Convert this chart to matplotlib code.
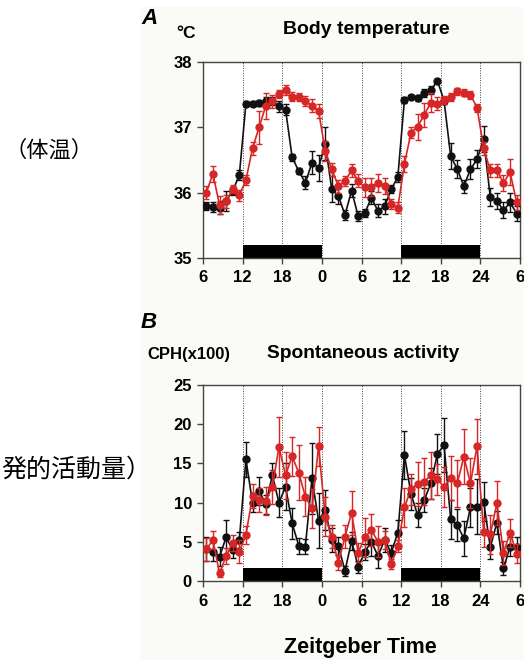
import numpy as np
import matplotlib
matplotlib.use("Agg")
import matplotlib.pyplot as plt
from matplotlib.patches import Rectangle

plt.rcParams['font.family'] = ['Liberation Sans', 'DejaVu Sans']

# hourly bins, Zeitgeber time (continuous hours, 2 days)
zt = np.arange(6.5, 54, 1.0)
tick_pos = [6, 12, 18, 24, 30, 36, 42, 48, 54]
tick_lab = ['6', '12', '18', '0', '6', '12', '18', '24', '6']
dark_periods = [(12, 24), (36, 48)]

# body temperature (deg C)
temp_black = [35.79, 35.78, 35.77, 35.87, 36.03, 36.27, 37.36, 37.36, 37.37, 37.40, 37.40, 37.32,
              37.27, 36.54, 36.33, 36.15, 36.46, 36.38, 36.75, 36.05, 35.95, 35.66, 36.03, 35.64,
              35.69, 35.92, 35.72, 35.79, 36.05, 36.24, 37.42, 37.46, 37.45, 37.53, 37.57, 37.71,
              37.41, 36.56, 36.36, 36.10, 36.36, 36.51, 36.82, 35.93, 35.87, 35.73, 35.85, 35.68]
temp_black_err = [0.06, 0.08, 0.10, 0.15, 0.06, 0.08, 0.04, 0.04, 0.05, 0.06, 0.06, 0.08,
                  0.08, 0.05, 0.05, 0.10, 0.18, 0.20, 0.25, 0.20, 0.12, 0.08, 0.10, 0.08,
                  0.06, 0.10, 0.10, 0.12, 0.06, 0.08, 0.04, 0.03, 0.05, 0.06, 0.06, 0.03,
                  0.06, 0.20, 0.14, 0.10, 0.15, 0.14, 0.20, 0.14, 0.12, 0.12, 0.14, 0.12]
temp_red = [36.00, 36.29, 35.81, 35.87, 36.05, 35.96, 36.19, 36.68, 37.00, 37.33, 37.40, 37.51,
            37.57, 37.47, 37.47, 37.40, 37.33, 37.25, 36.64, 36.36, 36.10, 36.18, 36.34, 36.18,
            36.08, 36.09, 36.15, 36.10, 35.83, 35.77, 36.44, 36.92, 37.01, 37.19, 37.38, 37.36,
            37.42, 37.47, 37.55, 37.53, 37.50, 37.30, 36.68, 36.34, 36.34, 36.15, 36.31, 35.85]
temp_red_err = [0.10, 0.12, 0.14, 0.10, 0.06, 0.08, 0.08, 0.10, 0.25, 0.20, 0.10, 0.06,
                0.08, 0.07, 0.06, 0.08, 0.10, 0.10, 0.15, 0.10, 0.10, 0.08, 0.10, 0.10,
                0.14, 0.14, 0.14, 0.12, 0.08, 0.08, 0.12, 0.08, 0.20, 0.18, 0.15, 0.10,
                0.06, 0.06, 0.05, 0.05, 0.06, 0.06, 0.10, 0.10, 0.10, 0.12, 0.20, 0.12]

# spontaneous activity (CPH x100)
act_black = [4.08, 3.74, 3.10, 5.57, 3.95, 5.23, 15.5, 10.0, 11.5, 9.78, 13.5, 10.0,
             12.0, 7.36, 4.50, 4.40, 13.1, 7.70, 9.06, 5.20, 4.46, 1.30, 5.10, 1.80,
             3.74, 5.00, 3.20, 5.23, 3.60, 6.16, 16.07, 11.1, 8.40, 10.3, 12.46, 16.2,
             17.35, 7.87, 7.14, 5.44, 9.40, 9.48, 10.1, 4.30, 7.44, 1.60, 4.38, 4.38]
act_black_err = [1.5, 1.2, 1.2, 2.2, 1.0, 1.0, 2.2, 1.2, 1.8, 1.2, 1.5, 1.8,
                 3.0, 2.0, 1.0, 1.0, 4.5, 3.5, 2.5, 1.5, 1.2, 0.6, 1.2, 0.8,
                 1.0, 1.8, 1.5, 1.5, 1.0, 1.6, 3.0, 2.0, 1.5, 1.5, 2.0, 2.5,
                 3.5, 2.5, 2.0, 2.2, 2.5, 3.5, 2.5, 1.5, 1.5, 0.8, 1.2, 1.2]
act_red = [4.04, 5.23, 0.98, 3.19, 4.89, 3.74, 5.87, 10.84, 10.33, 10.25, 12.0, 17.1,
           13.5, 15.9, 13.8, 10.75, 9.27, 17.2, 8.20, 5.65, 2.34, 5.65, 8.70, 3.60,
           5.57, 6.50, 5.00, 5.23, 2.17, 4.46, 9.40, 11.7, 12.37, 12.67, 13.5, 12.97,
           12.0, 13.1, 12.46, 15.86, 12.46, 17.2, 6.20, 5.95, 9.90, 3.60, 6.16, 3.50]
act_red_err = [1.5, 1.2, 0.5, 1.0, 1.0, 1.5, 1.2, 1.5, 1.5, 1.8, 2.2, 3.8,
               3.0, 2.5, 3.5, 2.5, 2.5, 2.5, 2.5, 1.5, 1.0, 1.5, 2.8, 1.2,
               2.5, 2.0, 2.0, 1.2, 0.6, 0.8, 2.5, 2.0, 2.8, 3.0, 3.0, 2.0,
               2.5, 2.8, 3.0, 3.5, 3.2, 3.5, 1.8, 2.5, 2.8, 1.5, 1.8, 1.2]

BLACK = '#111111'
RED = '#d62626'

fig = plt.figure(figsize=(5.24, 6.6), dpi=100)
fig.patch.set_facecolor('white')
# off-white panel behind the chart
bg = Rectangle((140 / 524, 0), 1, 653 / 660, transform=fig.transFigure,
               facecolor='#fafaf7', edgecolor='none', zorder=-10)
fig.add_artist(bg)


def draw_panel(ax, yb, yb_err, yr, yr_err, ylim, yticks):
    ax.set_facecolor('white')
    for x in tick_pos[1:-1]:
        ax.axvline(x, color='#444444', lw=0.7, ls=(0, (1, 1.5)), zorder=1)
    for a, b in dark_periods:
        ax.add_patch(Rectangle((a, 0), b - a, 0.065, transform=ax.get_xaxis_transform(),
                               facecolor='black', edgecolor='none', zorder=2))
    ax.errorbar(zt, yb, yerr=yb_err, fmt='-o', color=BLACK, ms=5, lw=1.2,
                elinewidth=1.0, capsize=2.5, capthick=1.0, zorder=3)
    ax.errorbar(zt, yr, yerr=yr_err, fmt='-o', color=RED, ms=5, lw=1.2,
                elinewidth=1.0, capsize=2.5, capthick=1.0, zorder=4)
    ax.set_xlim(6, 54)
    ax.set_ylim(*ylim)
    ax.set_xticks(tick_pos)
    ax.set_xticklabels(tick_lab)
    ax.set_yticks(yticks)
    for s in ax.spines.values():
        s.set_color('#444444')
        s.set_linewidth(1.0)
    ax.tick_params(direction='out', length=4, width=1.0, color='#444444',
                   labelsize=12)
    ax.tick_params(axis='x', pad=5)
    ax.tick_params(axis='y', pad=4)
    for lab in ax.get_xticklabels() + ax.get_yticklabels():
        lab.set_fontweight('bold')


axA = fig.add_axes([203 / 524, 1 - 258 / 660, 317 / 524, 196 / 660])
draw_panel(axA, temp_black, temp_black_err, temp_red, temp_red_err, (35, 38), [35, 36, 37, 38])

axB = fig.add_axes([203 / 524, 1 - 581 / 660, 317 / 524, 196 / 660])
draw_panel(axB, act_black, act_black_err, act_red, act_red_err, (0, 25), [0, 5, 10, 15, 20, 25])

# titles and labels
fig.text(141 / 524, 1 - 18 / 660, 'A', fontsize=16, fontweight='bold', style='italic',
         ha='left', va='center')
fig.text(176 / 524, 1 - 33 / 660, '°C', fontsize=12.5, fontweight='bold', ha='left', va='center')
fig.text(366 / 524, 1 - 30 / 660, 'Body temperature', fontsize=14, fontweight='bold',
         ha='center', va='center')

fig.text(141 / 524, 1 - 323 / 660, 'B', fontsize=16, fontweight='bold', style='italic',
         ha='left', va='center')
fig.text(147 / 524, 1 - 355 / 660, 'CPH(x100)', fontsize=12, fontweight='bold',
         ha='left', va='center')
fig.text(363 / 524, 1 - 354 / 660, 'Spontaneous activity', fontsize=13.8, fontweight='bold',
         ha='center', va='center')

fig.text(360 / 524, 1 - 647 / 660, 'Zeitgeber Time', fontsize=15.5, fontweight='bold',
         ha='center', va='center')

cjk = ['Noto Sans CJK JP', 'DejaVu Sans']
fig.text(4 / 524, 1 - 150 / 660, '（体温）', fontsize=16, family=cjk, ha='left', va='center')
fig.text(1 / 524, 1 - 470 / 660, '発的活動量）', fontsize=18, family=cjk, ha='left', va='center')

fig.savefig('out.png', dpi=100, facecolor=fig.get_facecolor())
